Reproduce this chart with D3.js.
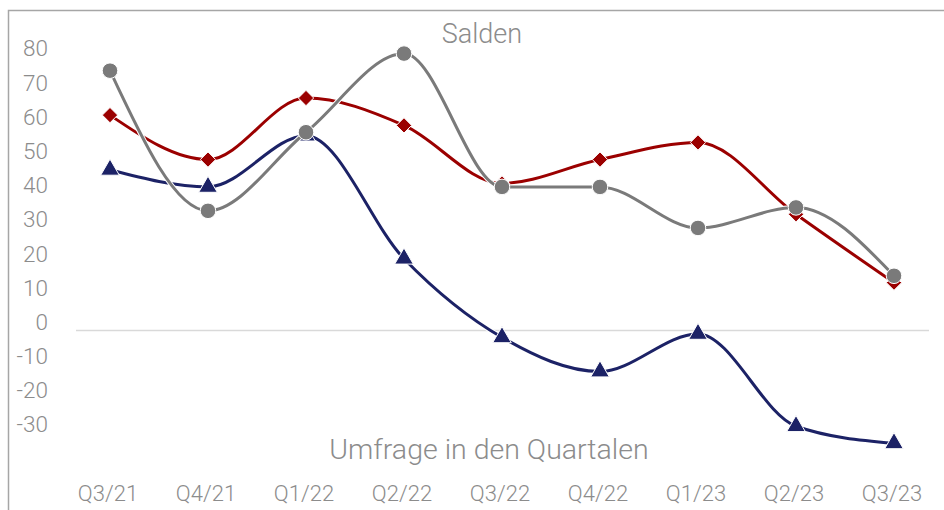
<!DOCTYPE html>
<html>
<head>
<meta charset="utf-8">
<script src="https://cdn.jsdelivr.net/npm/d3@7"></script>
<style>
  body { margin: 0; background: #fff; }
  svg text { font-family: Roboto, "Open Sans", sans-serif; font-weight: 300; fill: #8c8c8c; }
</style>
</head>
<body>
<svg id="chart" width="944" height="510"></svg>
<script>
// quarters on the x axis
var quarters = ["Q3/21", "Q4/21", "Q1/22", "Q2/22", "Q3/22", "Q4/22", "Q1/23", "Q2/23", "Q3/23"];
// saldo series
var redValues = [63, 50, 68, 60, 43, 50, 55, 34, 14];
var grayValues = [76, 35, 58, 81, 42, 42, 30, 36, 16];
var blueValues = [47, 42, 57, 21, -2, -12, -1, -28, -33];
var yTicks = [80, 70, 60, 50, 40, 30, 20, 10, 0, -10, -20, -30];

var svg = d3.select("#chart");

var x = d3.scalePoint().domain(quarters).range([110, 894]);
var y = d3.scaleLinear().domain([0, 80]).range([330.5, 57]);

// outer frame (only top and left edge are visible)
svg.append("path")
  .attr("d", "M8.5,510 L8.5,10.5 L944,10.5")
  .attr("fill", "none")
  .attr("stroke", "#a6a6a6")
  .attr("stroke-width", 1.5);

// zero line
svg.append("line")
  .attr("x1", 76).attr("x2", 929)
  .attr("y1", y(0)).attr("y2", y(0))
  .attr("stroke", "#d9d9d9")
  .attr("stroke-width", 1.5);

// y labels (sit a bit above their gridline, like the original)
svg.append("g")
  .selectAll("text")
  .data(yTicks)
  .enter()
  .append("text")
  .attr("x", 48)
  .attr("y", (d) => y(d) - 8.5)
  .attr("dy", "0.35em")
  .attr("text-anchor", "end")
  .attr("font-size", 22.5)
  .text((d) => d);

// x labels
svg.append("g")
  .selectAll("text")
  .data(quarters)
  .enter()
  .append("text")
  .attr("x", (d) => x(d) - 2)
  .attr("y", 501)
  .attr("text-anchor", "middle")
  .attr("font-size", 22)
  .text((d) => d);

svg.append("text")
  .attr("x", 482)
  .attr("y", 43)
  .attr("text-anchor", "middle")
  .attr("font-size", 27)
  .text("Salden");

svg.append("text")
  .attr("x", 489)
  .attr("y", 459)
  .attr("text-anchor", "middle")
  .attr("font-size", 28.5)
  .text("Umfrage in den Quartalen");

var line = d3.line()
  .x((d, i) => x(quarters[i]))
  .y((d) => y(d))
  .curve(d3.curveMonotoneX);

var series = [
  { values: blueValues, color: "#1c2266", symbol: d3.symbolTriangle, size: 150 },
  { values: redValues, color: "#9b0000", symbol: d3.symbolDiamond2, size: 150 },
  { values: grayValues, color: "#7a7a7a", symbol: d3.symbolCircle, size: 190 },
];

series.forEach(function (s) {
  var g = svg.append("g");
  // thin white halo under the line
  g.append("path")
    .datum(s.values)
    .attr("d", line)
    .attr("fill", "none")
    .attr("stroke", "#fff")
    .attr("stroke-width", 5);
  g.append("path")
    .datum(s.values)
    .attr("d", line)
    .attr("fill", "none")
    .attr("stroke", s.color)
    .attr("stroke-width", 3);
  g.selectAll(".marker")
    .data(s.values)
    .enter()
    .append("path")
    .attr("class", "marker")
    .attr("transform", (d, i) => `translate(${x(quarters[i])},${y(d)})`)
    .attr("d", d3.symbol().type(s.symbol).size(s.size))
    .attr("fill", s.color)
    .attr("stroke", "#fff")
    .attr("stroke-width", 1);
});
</script>
</body>
</html>
